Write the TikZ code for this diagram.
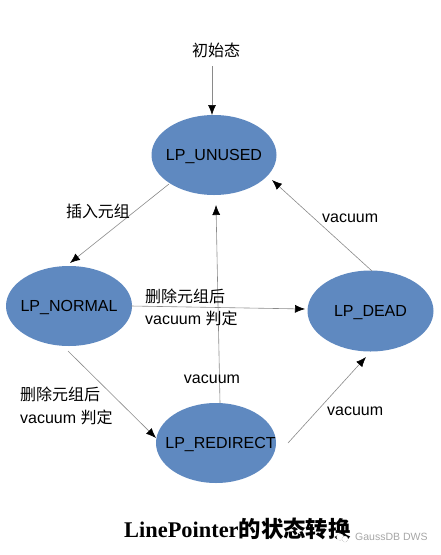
\documentclass[tikz,border=0pt]{standalone}
\usepackage{fontspec}
\setmainfont{Liberation Sans}
\newfontfamily\cjk{Noto Sans CJK SC}
\newfontfamily\serifb{Liberation Serif}
\usetikzlibrary{arrows.meta,shapes.geometric}
\definecolor{blob}{HTML}{5F89C0}
\definecolor{ln}{HTML}{8A8A8A}
\newcommand{\zw}[2][0pt]{\hspace*{#1}\makebox[0pt][c]{\raisebox{-5.5pt}[0pt][0pt]{#2}}}
\tikzset{
  state/.style={ellipse,fill=blob,inner sep=0pt,minimum width=125pt,minimum height=80pt,text=black,font=\fontsize{16}{16}\selectfont},
  conn/.style={draw=ln,line width=.6pt,-{Latex[black,length=10pt,width=8pt]},shorten >=0pt},
  lab/.style={text=black,font=\fontsize{16}{20}\selectfont,inner sep=0pt,align=left},
  wave/.style={draw=gray!60,line width=.5pt,densely dotted,fill=white},
}
\begin{document}
\begin{tikzpicture}[x=1pt,y=-1pt]
\useasboundingbox (0,0) rectangle (441,555);
\node[state] (unused) at (214,155) {\zw{LP\_UNUSED}};
\node[state,minimum width=126pt] (normal) at (69,306) {\zw{LP\_NORMAL}};
\node[state,minimum width=126pt,minimum height=81pt] (dead) at (370.5,311) {\zw{LP\_DEAD}};
\node[state,minimum width=120pt] (redirect) at (216,443) {\zw[9pt]{LP\_REDIRECT}};
\node[lab] (init) at (216,50) {\cjk 初始态};
\coordinate (a1) at (212,66);
\coordinate (a2) at (212,115);
\coordinate (b1) at (169,184);
\coordinate (b2) at (70,263);
\coordinate (c1) at (131,306);
\coordinate (c2) at (305,309);
\coordinate (d1) at (372,271);
\coordinate (d2) at (272,180);
\coordinate (e1) at (220,403);
\coordinate (e2) at (216,205);
\coordinate (f1) at (68,351);
\coordinate (f2) at (156,438);
\coordinate (g1) at (288,443);
\coordinate (g2) at (366,357);
\draw[conn] (a1) -- (a2);
\draw[conn] (b1) -- (b2);
\draw[conn] (c1) -- (c2);
\draw[conn] (d1) -- (d2);
\draw[conn] (e1) -- (e2);
\draw[conn] (f1) -- (f2);
\draw[conn] (g1) -- (g2);
\node[lab] (l1) at (98,211) {\cjk 插入元组};
\node[lab,anchor=west] (l2) at (322,218) {vacuum};
\node[lab,anchor=west] (l3) at (145,296) {\cjk 删除元组后};
\node[lab,anchor=west] (l4) at (145,318) {vacuum {\cjk 判定}};
\node[lab,anchor=west] (l5) at (20,394) {\cjk 删除元组后};
\node[lab,anchor=west] (l6) at (20,417) {vacuum {\cjk 判定}};
\node[lab] (l7) at (212,379) {vacuum};
\node[lab,anchor=west] (l8) at (327,411) {vacuum};
\node[inner sep=0pt,anchor=west,font=\fontsize{22.4}{22}\selectfont\bfseries] (title) at (124,529) {{\serifb LinePointer}{\cjk 的状态转换}};
\draw[wave] (340,537) circle (3.5pt);
\draw[wave] (345,539) circle (3pt);
\node[inner sep=0pt,anchor=west,text=gray!70,font=\fontsize{10.5}{10.5}\selectfont] (wm) at (355,537) {GaussDB DWS};
\end{tikzpicture}
\end{document}
